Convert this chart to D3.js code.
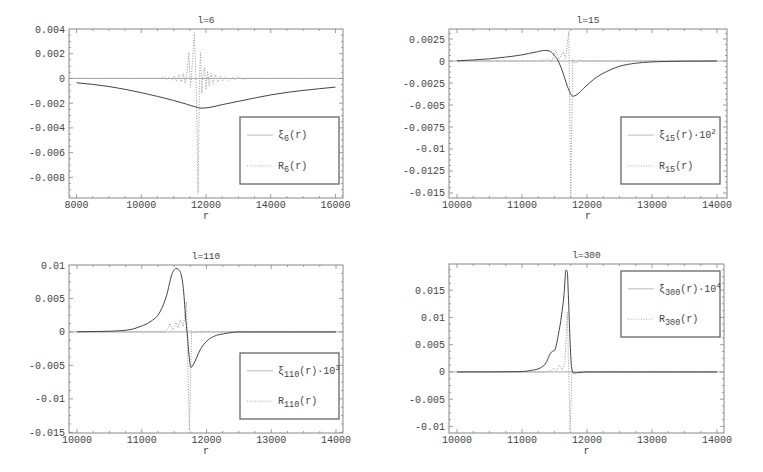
<!DOCTYPE html>
<html><head><meta charset="utf-8">
<script src="https://cdn.jsdelivr.net/npm/d3@7"></script>
<style>body{margin:0;background:#fff}svg{display:block}</style>
</head><body>
<svg id="c" width="763" height="472"></svg>
<script>
// ---------- data ----------
const titles = ["l=6", "l=15", "l=110", "l=300"];
const legendSub = ["6", "15", "110", "300"];
const legendPow = [null, "2", "3", "4"];

const xi6 = [[8000,-0.00035],[8500,-0.00048],[9000,-0.00065],[9500,-0.00088],[10000,-0.00115],[10500,-0.00145],[11000,-0.00178],[11400,-0.00208],[11700,-0.00232],[11850,-0.0024],[12000,-0.00238],[12500,-0.00212],[13000,-0.00185],[13500,-0.00158],[14000,-0.00133],[14500,-0.00113],[15000,-0.00097],[15500,-0.00083],[16000,-0.0007]];
const R6 = [[8000,0],[10600,0],[10700,0.0001],[10780,-0.0001],[10860,0.0001],[10940,-0.00015],[11020,0.0002],[11090,-0.0002],[11160,0.0003],[11230,-0.0003],[11300,0.0004],[11360,-0.0004],[11420,0.0006],[11470,0.0021],[11520,-0.0007],[11580,0.0012],[11640,0.0037],[11700,-0.0008],[11755,-0.0093],[11800,0.0002],[11830,0.0021],[11870,-0.0012],[11910,0.0004],[11960,0.0009],[12000,-0.0009],[12050,0.0006],[12100,-0.0006],[12160,0.0004],[12220,-0.0004],[12290,0.0003],[12360,-0.0003],[12440,0.0002],[12520,-0.0002],[12600,0.00015],[12700,-0.00015],[12800,0.0001],[12900,-0.0001],[13000,0.0001],[13150,-0.00005],[13300,0],[16000,0]];

const xi15 = [[10000,0.00003],[10250,0.00012],[10500,0.00025],[10750,0.00045],[11000,0.0007],[11200,0.001],[11350,0.0012],[11420,0.00115],[11480,0.0008],[11550,0.0001],[11620,-0.0011],[11700,-0.0029],[11780,-0.004],[11850,-0.0038],[11950,-0.0031],[12100,-0.0021],[12300,-0.0012],[12500,-0.0006],[12750,-0.00025],[13000,-0.0001],[13500,-0.00002],[14000,0]];
const R15 = [[10000,0],[11300,0],[11400,0.0002],[11450,-0.0001],[11520,0.0012],[11570,0.0002],[11630,0.0011],[11670,0.0003],[11720,0.0034],[11750,-0.0153],[11780,0.0002],[11820,-0.0003],[11870,0.0001],[11950,0],[14000,0]];

const xi110 = [[10000,0.00002],[10400,0.00008],[10664,0.00018],[10850,0.0004],[10973,0.0008],[11127,0.0015],[11282,0.003],[11385,0.0055],[11462,0.0085],[11530,0.0095],[11592,0.009],[11642,0.0065],[11683,0.0015],[11704,-0.00045],[11730,-0.0035],[11761,-0.0053],[11800,-0.0048],[11900,-0.0027],[12000,-0.0014],[12105,-0.0007],[12312,-0.0002],[12500,0],[14000,0]];
const R110 = [[10000,0],[11350,0],[11400,0.0004],[11436,0.0013],[11480,0.0003],[11530,0.0014],[11560,0.0006],[11592,0.0018],[11640,0.0008],[11690,0.0045],[11735,-0.0147],[11770,0.0002],[11810,-0.0002],[11860,0],[14000,0]];

const xi300 = [[10000,0],[10500,0.00001],[10969,0.00005],[11150,0.0003],[11277,0.0007],[11380,0.0019],[11431,0.0033],[11470,0.0038],[11497,0.0039],[11559,0.0068],[11610,0.0105],[11646,0.0141],[11677,0.0187],[11697,0.0184],[11713,0.0141],[11738,0.0062],[11764,0.0007],[11790,-0.0002],[11892,-0.0001],[12000,0],[14000,0]];
const R300 = [[10000,0],[11400,0],[11450,0.0003],[11482,0.0007],[11530,0.0002],[11574,0.0013],[11620,0.0004],[11660,0.0016],[11697,0.011],[11740,-0.0107],[11770,0.0003],[11820,0],[14000,0]];

const xTicks6 = [8000, 10000, 12000, 14000, 16000];
const xTicksN = [10000, 11000, 12000, 13000, 14000];
const yTicks6 = [0.004, 0.002, 0, -0.002, -0.004, -0.006, -0.008];
const yTicks15 = [0.0025, 0, -0.0025, -0.005, -0.0075, -0.01, -0.0125, -0.015];
const yTicks110 = [0.01, 0.005, 0, -0.005, -0.01, -0.015];
const yTicks300 = [0.015, 0.01, 0.005, 0, -0.005, -0.01];

// ---------- layout ----------
const panels = [
  {xi: xi6, R: R6, xt: xTicks6, yt: yTicks6, fr: [69, 29, 343, 198], xd: [7768, 16232], yd: [-0.00967, 0.004], xMinor: 500, yMinor: 0.0005, lg: [240, 117, 339, 184]},
  {xi: xi15, R: R15, xt: xTicksN, yt: yTicks15, fr: [449, 29, 727, 198], xd: [9877, 14154], yd: [-0.01557, 0.00364], xMinor: 250, yMinor: 0.000625, lg: [621, 117, 720, 184]},
  {xi: xi110, R: R110, xt: xTicksN, yt: yTicks110, fr: [69, 265, 343, 433], xd: [9876, 14108], yd: [-0.0151, 0.01], xMinor: 250, yMinor: 0.00125, lg: [240, 353, 339, 419]},
  {xi: xi300, R: R300, xt: xTicksN, yt: yTicks300, fr: [449, 264, 724, 433], xd: [9877, 14108], yd: [-0.0112, 0.0198], xMinor: 250, yMinor: 0.00125, lg: [621, 271, 720, 337]}
];

const svg = d3.select("#c");
const FONT = "'Liberation Mono', 'DejaVu Sans Mono', monospace";
const fmt = d => d === 0 ? "0" : String(d);

panels.forEach((p, i) => {
  const [x0, y0, x1, y1] = p.fr;
  const x = d3.scaleLinear().domain(p.xd).range([x0, x1]);
  const y = d3.scaleLinear().domain(p.yd).range([y1, y0]);
  const g = svg.append("g");

  // zero axis
  g.append("line").attr("x1", x0).attr("x2", x1).attr("y1", y(0)).attr("y2", y(0))
    .attr("stroke", "#aaa").attr("stroke-width", 1);

  const clipId = "clip" + i;
  svg.append("clipPath").attr("id", clipId).append("rect")
    .attr("x", x0).attr("y", y0).attr("width", x1 - x0).attr("height", y1 - y0);

  const line = d3.line().x(d => x(d[0])).y(d => y(d[1]));
  g.append("path").datum(p.R).attr("d", line).attr("fill", "none")
    .attr("stroke", "#999").attr("stroke-width", 1).attr("stroke-dasharray", "1,1.6")
    .attr("clip-path", `url(#${clipId})`);
  g.append("path").datum(p.xi).attr("d", d3.line().curve(d3.curveMonotoneX).x(d => x(d[0])).y(d => y(d[1])))
    .attr("fill", "none").attr("stroke", "#444").attr("stroke-width", 1)
    .attr("clip-path", `url(#${clipId})`);

  // frame
  g.append("rect").attr("x", x0).attr("y", y0).attr("width", x1 - x0).attr("height", y1 - y0)
    .attr("fill", "none").attr("stroke", "#888").attr("stroke-width", 1);

  // ticks
  const xm = d3.range(Math.ceil(p.xd[0] / p.xMinor) * p.xMinor, p.xd[1], p.xMinor);
  const ym = d3.range(Math.ceil(p.yd[0] / p.yMinor) * p.yMinor, p.yd[1], p.yMinor);
  const tk = g.append("g").attr("stroke", "#888").attr("stroke-width", 0.8);
  xm.forEach(v => {
    const major = p.xt.some(t => Math.abs(t - v) < 1e-6);
    const L = major ? 4 : 2;
    tk.append("line").attr("x1", x(v)).attr("x2", x(v)).attr("y1", y1).attr("y2", y1 - L);
    tk.append("line").attr("x1", x(v)).attr("x2", x(v)).attr("y1", y0).attr("y2", y0 + L);
  });
  ym.forEach(v => {
    const major = p.yt.some(t => Math.abs(t - v) < 1e-9);
    const L = major ? 4 : 2;
    tk.append("line").attr("y1", y(v)).attr("y2", y(v)).attr("x1", x0).attr("x2", x0 + L);
    tk.append("line").attr("y1", y(v)).attr("y2", y(v)).attr("x1", x1).attr("x2", x1 - L);
  });

  // tick labels
  p.xt.forEach(v => {
    g.append("text").attr("x", x(v)).attr("y", y1 + 10).attr("text-anchor", "middle")
      .attr("font-family", FONT).attr("font-size", 10).attr("fill", "#444").text(fmt(v));
  });
  p.yt.forEach(v => {
    g.append("text").attr("x", x0 - 4).attr("y", y(v) + 3.5).attr("text-anchor", "end")
      .attr("font-family", FONT).attr("font-size", 10).attr("fill", "#444").text(fmt(v));
  });
  // axis label r
  g.append("text").attr("x", (x0 + x1) / 2).attr("y", y1 + 21).attr("text-anchor", "middle")
    .attr("font-family", FONT).attr("font-size", 10).attr("fill", "#444").text("r");
  // title
  g.append("text").attr("x", (x0 + x1) / 2).attr("y", y0 - 6).attr("text-anchor", "middle")
    .attr("font-family", FONT).attr("font-size", 9.5).attr("fill", "#444").text(titles[i]);

  // legend
  const [lx0, ly0, lx1, ly1] = p.lg;
  g.append("rect").attr("x", lx0).attr("y", ly0).attr("width", lx1 - lx0).attr("height", ly1 - ly0)
    .attr("fill", "#fff").attr("stroke", "#666").attr("stroke-width", 1.3);
  const rowA = ly0 + (ly1 - ly0) * 0.27, rowB = ly0 + (ly1 - ly0) * 0.73;
  g.append("line").attr("x1", lx0 + 7).attr("x2", lx0 + 33).attr("y1", rowA).attr("y2", rowA)
    .attr("stroke", "#bbb").attr("stroke-width", 1);
  g.append("line").attr("x1", lx0 + 7).attr("x2", lx0 + 33).attr("y1", rowB).attr("y2", rowB)
    .attr("stroke", "#aaa").attr("stroke-width", 1).attr("stroke-dasharray", "1,1.6");
  const tA = g.append("text").attr("x", lx0 + 38).attr("y", rowA + 3)
    .attr("font-family", FONT).attr("font-size", 10).attr("fill", "#444");
  tA.append("tspan").text("ξ");
  tA.append("tspan").attr("dy", 3).attr("font-size", 8.5).text(legendSub[i]);
  tA.append("tspan").attr("dy", -3).text("(r)");
  if (legendPow[i]) {
    tA.append("tspan").text("·10");
    tA.append("tspan").attr("dy", -4).attr("font-size", 7.5).text(legendPow[i]);
  }
  const tB = g.append("text").attr("x", lx0 + 38).attr("y", rowB + 3)
    .attr("font-family", FONT).attr("font-size", 10).attr("fill", "#444");
  tB.append("tspan").text("R");
  tB.append("tspan").attr("dy", 3).attr("font-size", 8.5).text(legendSub[i]);
  tB.append("tspan").attr("dy", -3).text("(r)");
});
</script>
</body></html>
